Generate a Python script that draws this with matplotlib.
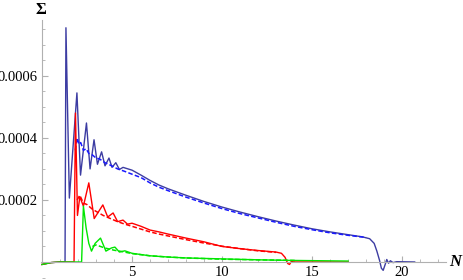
import numpy as np
import matplotlib.pyplot as plt
from matplotlib.ticker import MultipleLocator, FixedLocator

# blue (solid) curve
blue_x = [0.0, 0.5, 1.0, 1.28, 1.33, 1.52, 1.94, 2.14, 2.47, 2.67, 2.89, 3.08, 3.31, 3.5,
          3.72, 3.89, 4.1, 4.3, 4.5, 5.0, 5.5, 6.0, 6.5, 7, 8, 9, 10, 11, 12, 13, 14, 15,
          16, 17, 17.8, 18.2, 18.45, 18.6, 18.75, 18.85, 18.95, 19.05, 19.15, 19.25,
          19.35, 19.5, 19.7, 20.7]
blue_y = [-8e-6, -2e-6, 0.0, 0.0, 7.55e-4, 2.06e-4, 5.45e-4, 2.8e-4, 4.48e-4, 3.0e-4,
          3.94e-4, 3.15e-4, 3.55e-4, 3.1e-4, 3.35e-4, 3.05e-4, 3.2e-4, 2.98e-4, 3.05e-4,
          2.96e-4, 2.8e-4, 2.63e-4, 2.48e-4, 2.36e-4, 2.15e-4, 1.95e-4, 1.77e-4, 1.61e-4,
          1.46e-4, 1.32e-4, 1.19e-4, 1.07e-4, 9.7e-5, 8.8e-5, 8.1e-5, 7.5e-5, 6.0e-5,
          3.5e-5, 5e-6, -2.0e-5, -2.7e-5, -1.0e-5, 8e-6, -4e-6, 4e-6, -2e-6, 1e-6, 0.0]
# blue (dashed) curve
blue_d_x = [1.85, 1.95, 2.05, 2.15, 2.3, 2.45, 2.6, 2.8, 3.0, 3.2, 3.5, 3.8, 4.2, 4.6,
            5.0, 5.5, 6, 6.5, 7, 8, 9, 10, 11, 12, 13, 14, 15, 16, 17, 18]
blue_d_y = [3.6e-4, 4.0e-4, 3.8e-4, 3.85e-4, 3.6e-4, 3.65e-4, 3.5e-4, 3.45e-4, 3.35e-4,
            3.32e-4, 3.2e-4, 3.12e-4, 3.0e-4, 2.92e-4, 2.83e-4, 2.72e-4, 2.55e-4, 2.41e-4,
            2.3e-4, 2.09e-4, 1.9e-4, 1.72e-4, 1.56e-4, 1.42e-4, 1.28e-4, 1.15e-4, 1.04e-4,
            9.4e-5, 8.6e-5, 7.9e-5]

# red (solid) curve
red_x = [0.0, 0.5, 1.0, 1.78, 1.86, 1.97, 2.1, 2.3, 2.6, 2.9, 3.38, 3.65, 3.95, 4.2, 4.5,
         4.75, 5.0, 5.5, 6, 6.5, 7, 8, 9, 10, 11, 12, 13, 13.3, 13.5, 13.65, 13.75, 13.85,
         14, 17]
red_y = [-8e-6, -2e-6, 0.0, 0.0, 4.8e-4, 1.5e-4, 2.1e-4, 1.8e-4, 2.55e-4, 1.4e-4, 1.84e-4,
         1.45e-4, 1.58e-4, 1.3e-4, 1.35e-4, 1.22e-4, 1.25e-4, 1.15e-4, 1.03e-4, 9.7e-5,
         9.0e-5, 7.7e-5, 6.5e-5, 5.0e-5, 4.3e-5, 3.7e-5, 3.2e-5, 2.8e-5, 1.5e-5, -5e-6,
         -8e-6, 2e-6, 0.0, 0.0]
# red (dashed) curve
red_d_x = [1.95, 2.1, 2.3, 2.5, 2.8, 3.1, 3.4, 3.8, 4.2, 4.6, 5, 5.5, 6, 6.5, 7, 8, 9, 10,
           11, 12, 13]
red_d_y = [2.0e-4, 2.15e-4, 1.9e-4, 1.85e-4, 1.7e-4, 1.6e-4, 1.5e-4, 1.4e-4, 1.3e-4,
           1.22e-4, 1.15e-4, 1.06e-4, 9.7e-5, 9.0e-5, 8.4e-5, 7.2e-5, 6.1e-5, 5.1e-5,
           4.3e-5, 3.6e-5, 3.1e-5]

# green (solid) curve
green_x = [0.0, 0.5, 1.0, 2.2, 2.3, 2.45, 2.6, 2.75, 2.95, 3.25, 3.55, 3.85, 4.05, 4.3,
           4.6, 5, 6, 7, 8, 10, 12, 14, 17]
green_y = [-8e-6, -2e-6, 0.0, 0.0, 1.8e-4, 1.1e-4, 6.0e-5, 3.5e-5, 6.0e-5, 7.7e-5, 3.5e-5,
           4.5e-5, 4.8e-5, 3.2e-5, 3.6e-5, 2.8e-5, 2.0e-5, 1.6e-5, 1.3e-5, 1.0e-5, 7e-6,
           5e-6, 3e-6]
# green (dashed) curve
green_d_x = [2.8, 3.0, 3.5, 4, 4.5, 5, 6, 7, 8, 10, 12, 14]
green_d_y = [5.0e-5, 5.5e-5, 4.5e-5, 3.8e-5, 3.3e-5, 2.7e-5, 2.0e-5, 1.6e-5, 1.3e-5,
             9e-6, 7e-6, 5e-6]

fig = plt.figure(figsize=(4.63, 2.80), dpi=100)
ax = fig.add_axes([40.5 / 463, 2.5 / 280, (446 - 40.5) / 463, (277.5 - 20) / 280])

ax.plot(blue_x, blue_y, color="#3c3ca2", lw=1.0)
ax.plot(blue_d_x, blue_d_y, color="#1a1aff", lw=1.1, dashes=(3, 1.5))
ax.plot(red_x, red_y, color="#ff0000", lw=1.0)
ax.plot(red_d_x, red_d_y, color="#ff0000", lw=1.1, dashes=(3, 1.5))
ax.plot(green_x, green_y, color="#00e600", lw=1.0)
ax.plot(green_d_x, green_d_y, color="#00e600", lw=1.1, dashes=(3, 1.5))

ax.set_xlim(-0.083, 22.44)
ax.set_ylim(-5e-5, 7.8e-4)

for s in ["top", "right"]:
    ax.spines[s].set_visible(False)
ax.spines["left"].set_position(("data", 0))
ax.spines["bottom"].set_position(("data", 0))
for s in ["left", "bottom"]:
    ax.spines[s].set_color("#b0b0b0")
    ax.spines[s].set_linewidth(0.8)
ax.spines["left"].set_bounds(0, 7.8e-4)

ax.xaxis.set_major_locator(FixedLocator([5, 10, 15, 20]))
ax.xaxis.set_minor_locator(MultipleLocator(1))
ax.yaxis.set_major_locator(FixedLocator([0.0002, 0.0004, 0.0006]))
ax.yaxis.set_minor_locator(MultipleLocator(0.00005))
ax.set_xticklabels(["5", "10", "15", "20"])
ax.set_yticklabels(["0.0002", "0.0004", "0.0006"])
ax.tick_params(which="both", direction="in", color="#b0b0b0", labelsize=10.5,
               labelfontfamily="Liberation Serif", pad=3)
ax.tick_params(which="major", length=4, width=0.8)
ax.tick_params(which="minor", length=2, width=0.6)

fig.text(40.5 / 463, 1 - 10 / 280, "Σ", ha="center", va="center", fontsize=12,
         family="Liberation Serif", fontweight="bold")
fig.text(455 / 463, 1 - 262 / 280, "N", ha="center", va="center", fontsize=12,
         family="Liberation Serif", fontweight="bold", style="italic")

fig.savefig("out.png", dpi=100)
